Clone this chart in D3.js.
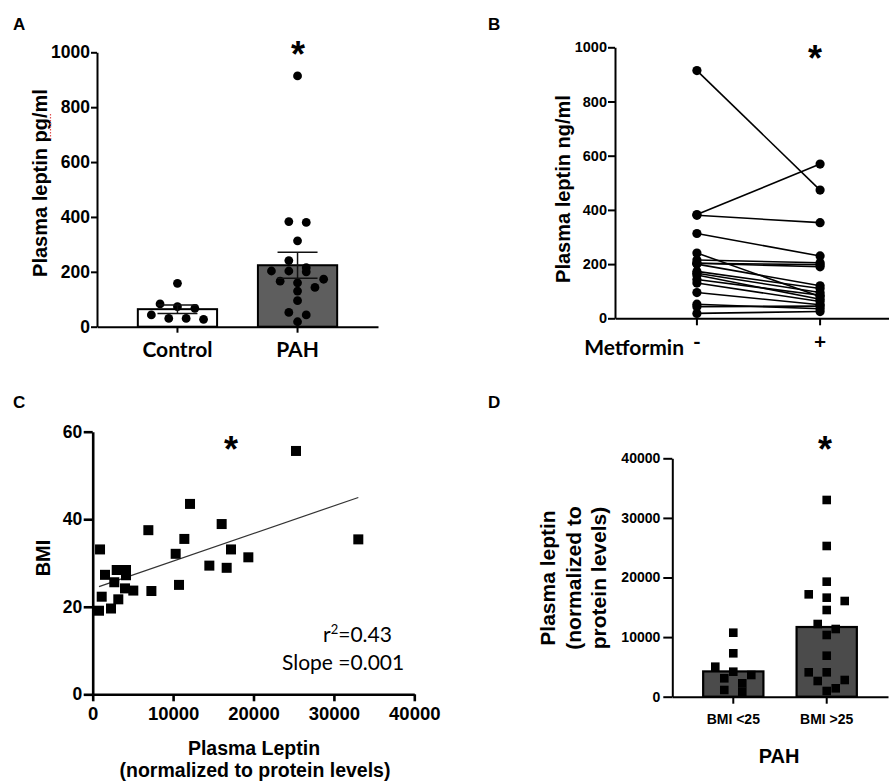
<!DOCTYPE html>
<html>
<head>
<meta charset="utf-8">
<script src="https://cdn.jsdelivr.net/npm/d3@7/dist/d3.min.js"></script>
<style>
body { margin: 0; background: #fff; }
svg { display: block; }
</style>
</head>
<body>
<svg id="fig" width="889" height="781"></svg>
<script>
// A - plasma leptin (pg/ml), control vs PAH
var groupsA = ["Control", "PAH"];
var controlA = [158, 83, 73, 67, 43, 30, 30, 27];
var pahA = [914, 383, 380, 313, 241, 215, 203, 203, 200, 173, 166, 160, 143, 130, 95, 52, 43, 18];
var ticksA = [0, 200, 400, 600, 800, 1000];

// B - paired, before / after metformin
var metLabels = ["-", "+"];
var preB = [914, 383, 380, 313, 241, 215, 203, 203, 200, 173, 166, 160, 143, 130, 95, 52, 43, 18];
var postB = [473, 569, 353, 230, 80, 205, 198, 190, 120, 110, 95, 70, 85, 62, 50, 35, 45, 25];
var ticksB = [0, 200, 400, 600, 800, 1000];

// C - BMI vs normalized leptin
var leptinC = [912, 1530, 2986, 4143, 4143, 2687, 1120, 3185, 4018, 5050, 7300, 784, 2277,
	6922, 10321, 10736, 11399, 12104, 14508, 16041, 16663, 17202, 19358, 25285, 33036];
var bmiC = [33.1, 27.3, 28.4, 28.4, 27.2, 25.6, 22.3, 21.7, 24.2, 23.7, 23.6, 19.1, 19.6,
	37.5, 32.1, 25.0, 35.5, 43.5, 29.4, 38.9, 28.9, 33.1, 31.3, 55.6, 35.4];
var ticksCx = [0, 10000, 20000, 30000, 40000];
var ticksCy = [0, 20, 40, 60];

// D - normalized leptin by BMI group
var groupsD = ["BMI <25", "BMI >25"];
var lowD = [10738, 7282, 5034, 4195, 3641, 3087, 2248, 1124, 839];
var highD = [33007, 25287, 19301, 17175, 16615, 16056, 14545, 12198, 11359, 10352, 6879, 4094, 4094, 2802, 2634, 1409, 956];
var ticksD = [0, 10000, 20000, 30000, 40000];

var ARIAL = '"Liberation Sans", Arial, Helvetica, sans-serif';
var CALI = 'Lato, "Open Sans", sans-serif';
var plain = d3.format("d");

var svg = d3.select("#fig");

function text(g, x, y, str, size, opts) {
	opts = opts || {};
	var t = g.append("text")
		.attr("x", x)
		.attr("y", y)
		.attr("font-family", opts.family || ARIAL)
		.attr("font-weight", opts.weight || "bold")
		.attr("font-size", size)
		.attr("text-anchor", opts.anchor || "middle")
		.attr("fill", "#000")
		.text(str);
	if (opts.rotate) t.attr("transform", "rotate(-90," + x + "," + y + ")");
	return t;
}

function styleAxis(sel, width, size, family) {
	sel.select(".domain").attr("stroke", "#000").attr("stroke-width", width);
	sel.selectAll(".tick line").attr("stroke", "#000").attr("stroke-width", width);
	sel.selectAll(".tick text")
		.attr("fill", "#000")
		.attr("font-family", family || ARIAL)
		.attr("font-weight", "bold")
		.attr("font-size", size);
}

// lay points of one column in rows, GraphPad style
function swarm(values, y, diam, unit) {
	var pts = values.map(function(v) { return {v: v}; })
		.sort(function(a, b) { return b.v - a.v; });
	var rows = [], row = null;
	pts.forEach(function(d) {
		if (!row || y(d.v) - y(row[0].v) >= diam) {
			row = [d];
			rows.push(row);
		} else {
			row.push(d);
		}
	});
	rows.forEach(function(r) {
		var n = r.length;
		r.forEach(function(d, k) { d.dx = (2 * k - (n - 1)) * unit; });
	});
	return pts;
}

function sem(v) { return d3.deviation(v) / Math.sqrt(v.length); }

// ---------- A ----------
var gA = svg.append("g");
var yA = d3.scaleLinear().domain([0, 1000]).range([326.7, 52.3]);
var xA = d3.scaleBand().domain(groupsA).range([97, 378]).paddingOuter(0.17);
var dataA = [{name: "Control", values: controlA, fill: "#fff"}, {name: "PAH", values: pahA, fill: "#5e5e5e"}];

var barWA = xA.bandwidth() * 0.66;
gA.selectAll("rect.bar")
	.data(dataA)
	.enter()
	.append("rect")
		.attr("x", function(d) { return xA(d.name) + (xA.bandwidth() - barWA) / 2; })
		.attr("y", function(d) { return yA(d3.mean(d.values)); })
		.attr("width", barWA)
		.attr("height", function(d) { return yA(0) - yA(d3.mean(d.values)); })
		.attr("fill", function(d) { return d.fill; })
		.attr("stroke", "#000")
		.attr("stroke-width", 2);

dataA.forEach(function(d) {
	var cx = xA(d.name) + xA.bandwidth() / 2;
	var pts = swarm(d.values, yA, 8.7, 8.7);
	gA.selectAll("circle." + d.name)
		.data(pts)
		.enter()
		.append("circle")
			.attr("cx", function(p) { return cx + p.dx; })
			.attr("cy", function(p) { return yA(p.v); })
			.attr("r", 4.4)
			.attr("fill", "#000");
	var m = d3.mean(d.values), s = sem(d.values);
	var eb = gA.append("g").attr("stroke", "#111").attr("stroke-width", 1.5);
	eb.append("line").attr("x1", cx).attr("x2", cx).attr("y1", yA(m - s)).attr("y2", yA(m + s));
	eb.append("line").attr("x1", cx - 20).attr("x2", cx + 20).attr("y1", yA(m + s)).attr("y2", yA(m + s));
	eb.append("line").attr("x1", cx - 20).attr("x2", cx + 20).attr("y1", yA(m - s)).attr("y2", yA(m - s));
});

gA.append("g")
	.attr("transform", "translate(97,0)")
	.call(d3.axisLeft(yA).tickValues(ticksA).tickFormat(plain).tickSize(6).tickPadding(1).tickSizeOuter(0))
	.call(styleAxis, 2, 17.5);
gA.append("g")
	.attr("transform", "translate(0,326.7)")
	.call(d3.axisBottom(xA).tickSize(6).tickPadding(9.5).tickSizeOuter(0))
	.call(styleAxis, 2, 21, CALI);

text(gA, 47, 183, "Plasma leptin pg/ml", 20, {rotate: true});
gA.append("line")
	.attr("x1", 50.5).attr("x2", 50.5).attr("y1", 114).attr("y2", 139)
	.attr("stroke", "#e05050").attr("stroke-width", 1.2).attr("stroke-dasharray", "1.5,1.5");
text(gA, 298, 67, "*", 36);
text(gA, 13, 30, "A", 17, {anchor: "start"});

// ---------- B ----------
var gB = svg.append("g");
var yB = d3.scaleLinear().domain([0, 1000]).range([318.3, 47.3]);
var xB = d3.scaleBand().domain(metLabels).range([615, 902]).paddingOuter(0.165);
var c0 = xB("-") + xB.bandwidth() / 2, c1 = xB("+") + xB.bandwidth() / 2;

gB.selectAll("line.pair")
	.data(preB)
	.enter()
	.append("line")
		.attr("x1", c0)
		.attr("x2", c1)
		.attr("y1", function(d) { return yB(d); })
		.attr("y2", function(d, i) { return yB(postB[i]); })
		.attr("stroke", "#000")
		.attr("stroke-width", 1.6);
gB.selectAll("circle.pre")
	.data(preB)
	.enter()
	.append("circle")
		.attr("cx", c0)
		.attr("cy", function(d) { return yB(d); })
		.attr("r", 4.6)
		.attr("fill", "#000");
gB.selectAll("circle.post")
	.data(postB)
	.enter()
	.append("circle")
		.attr("cx", c1)
		.attr("cy", function(d) { return yB(d); })
		.attr("r", 4.6)
		.attr("fill", "#000");

gB.append("g")
	.attr("transform", "translate(615,0)")
	.call(d3.axisLeft(yB).tickValues(ticksB).tickFormat(plain).tickSize(7).tickPadding(1).tickSizeOuter(0))
	.call(styleAxis, 2, 14.5);
gB.append("g")
	.attr("transform", "translate(0,318.3)")
	.call(d3.axisBottom(xB).tickSize(7).tickPadding(8.5).tickSizeOuter(0))
	.call(styleAxis, 2, 21, CALI);

text(gB, 570, 189, "Plasma leptin ng/ml", 20, {rotate: true});
text(gB, 684, 355, "Metformin", 21, {anchor: "end", family: CALI});
text(gB, 815, 71, "*", 36);
text(gB, 488, 30, "B", 17, {anchor: "start"});

// ---------- C ----------
var gC = svg.append("g");
var xC = d3.scaleLinear().domain([0, 40000]).range([92.7, 414.3]);
var yC = d3.scaleLinear().domain([0, 60]).range([694.3, 431.7]);

var mx = d3.mean(leptinC), my = d3.mean(bmiC);
var sxy = d3.sum(leptinC, function(v, i) { return (v - mx) * (bmiC[i] - my); });
var sxx = d3.sum(leptinC, function(v) { return (v - mx) * (v - mx); });
var slope = sxy / sxx, icpt = my - slope * mx;
var xr = d3.extent(leptinC);
gC.append("line")
	.attr("x1", xC(xr[0])).attr("y1", yC(icpt + slope * xr[0]))
	.attr("x2", xC(xr[1])).attr("y2", yC(icpt + slope * xr[1]))
	.attr("stroke", "#333")
	.attr("stroke-width", 1.2);

gC.selectAll("rect.pt")
	.data(leptinC)
	.enter()
	.append("rect")
		.attr("x", function(d) { return xC(d) - 5; })
		.attr("y", function(d, i) { return yC(bmiC[i]) - 5; })
		.attr("width", 10)
		.attr("height", 10)
		.attr("fill", "#000");

gC.append("g")
	.attr("transform", "translate(92.7,0)")
	.call(d3.axisLeft(yC).tickValues(ticksCy).tickSize(9).tickPadding(1.5).tickSizeOuter(0))
	.call(styleAxis, 2.6, 17.5);
gC.append("g")
	.attr("transform", "translate(0,694.3)")
	.call(d3.axisBottom(xC).tickValues(ticksCx).tickFormat(plain).tickSize(7).tickPadding(5.5).tickSizeOuter(0))
	.call(styleAxis, 2.6, 18.5);

text(gC, 50, 558, "BMI", 20, {rotate: true});
text(gC, 254, 755, "Plasma Leptin", 19.5);
text(gC, 255, 777, "(normalized to protein levels)", 19.5);
var r2 = text(gC, 323, 642, "r", 21, {anchor: "start", family: CALI, weight: "normal"});
r2.append("tspan").attr("font-size", 13).attr("dy", -8).text("2");
r2.append("tspan").attr("dy", 8).text("=0.43");
text(gC, 282, 670, "Slope =0.001", 21, {anchor: "start", family: CALI, weight: "normal"});
text(gC, 231, 462, "*", 36);
text(gC, 13, 408, "C", 17, {anchor: "start"});

// ---------- D ----------
var gD = svg.append("g");
var yD = d3.scaleLinear().domain([0, 40000]).range([696.7, 458.3]);
var xD = d3.scaleBand().domain(groupsD).range([672, 888]).paddingOuter(0.156);
var dataD = [{name: "BMI <25", values: lowD}, {name: "BMI >25", values: highD}];
var barWD = xD.bandwidth() * 0.645;

gD.selectAll("rect.bar")
	.data(dataD)
	.enter()
	.append("rect")
		.attr("x", function(d) { return xD(d.name) + (xD.bandwidth() - barWD) / 2; })
		.attr("y", function(d) { return yD(d3.mean(d.values)); })
		.attr("width", barWD)
		.attr("height", function(d) { return yD(0) - yD(d3.mean(d.values)); })
		.attr("fill", "#4b4b4b")
		.attr("stroke", "#000")
		.attr("stroke-width", 2.2);

dataD.forEach(function(d) {
	var cx = xD(d.name) + xD.bandwidth() / 2;
	var pts = swarm(d.values, yD, 8.5, 9);
	gD.append("g").selectAll("rect")
		.data(pts)
		.enter()
		.append("rect")
			.attr("x", function(p) { return cx + p.dx - 4.3; })
			.attr("y", function(p) { return yD(p.v) - 4.3; })
			.attr("width", 8.6)
			.attr("height", 8.6)
			.attr("fill", "#000");
});

gD.append("g")
	.attr("transform", "translate(672.3,0)")
	.call(d3.axisLeft(yD).tickValues(ticksD).tickFormat(plain).tickSize(9).tickPadding(3).tickSizeOuter(0))
	.call(styleAxis, 2, 14);
gD.append("g")
	.attr("transform", "translate(0,696.7)")
	.call(d3.axisBottom(xD).tickSize(7).tickPadding(10).tickSizeOuter(0))
	.call(styleAxis, 2, 14);

text(gD, 555, 578, "Plasma leptin", 21, {rotate: true});
text(gD, 580.5, 578, "(normalized to", 21, {rotate: true});
text(gD, 606, 578, "protein levels)", 21, {rotate: true});
text(gD, 779, 763, "PAH", 20);
text(gD, 825, 462, "*", 36);
text(gD, 488, 408, "D", 17, {anchor: "start"});
</script>
</body>
</html>
